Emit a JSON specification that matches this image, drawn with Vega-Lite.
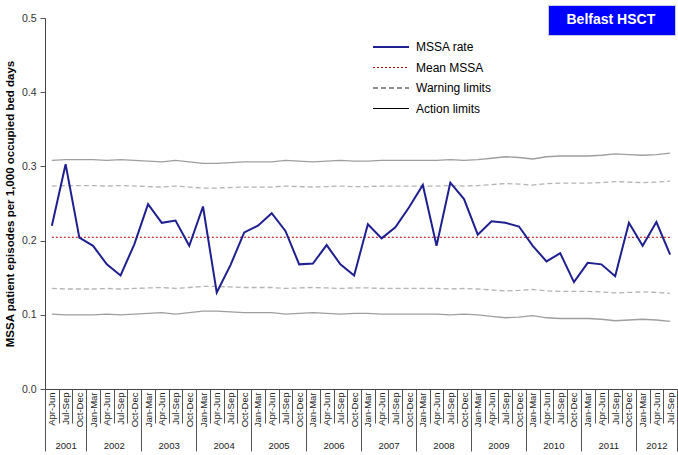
{
  "$schema": "https://vega.github.io/schema/vega-lite/v6.json",
  "width": 632,
  "height": 371,
  "autosize": {"type": "none"},
  "padding": {"left": 45, "top": 18, "right": 1, "bottom": 66},
  "background": "white",
  "config": {"view": {"stroke": null}, "font": "Liberation Sans"},
  "datasets": {
    "q": [
      {"key": "2001 Apr-Jun", "rate": 0.220, "mean": 0.2045, "ua": 0.308, "uw": 0.2735, "lw": 0.1355, "la": 0.101},
      {"key": "2001 Jul-Sep", "rate": 0.303, "mean": 0.2045, "ua": 0.309, "uw": 0.2742, "lw": 0.1348, "la": 0.100},
      {"key": "2001 Oct-Dec", "rate": 0.204, "mean": 0.2045, "ua": 0.309, "uw": 0.2742, "lw": 0.1348, "la": 0.100},
      {"key": "2002 Jan-Mar", "rate": 0.193, "mean": 0.2045, "ua": 0.309, "uw": 0.2742, "lw": 0.1348, "la": 0.100},
      {"key": "2002 Apr-Jun", "rate": 0.168, "mean": 0.2045, "ua": 0.308, "uw": 0.2735, "lw": 0.1355, "la": 0.101},
      {"key": "2002 Jul-Sep", "rate": 0.153, "mean": 0.2045, "ua": 0.309, "uw": 0.2742, "lw": 0.1348, "la": 0.100},
      {"key": "2002 Oct-Dec", "rate": 0.195, "mean": 0.2045, "ua": 0.308, "uw": 0.2735, "lw": 0.1355, "la": 0.101},
      {"key": "2003 Jan-Mar", "rate": 0.249, "mean": 0.2045, "ua": 0.307, "uw": 0.2728, "lw": 0.1362, "la": 0.102},
      {"key": "2003 Apr-Jun", "rate": 0.224, "mean": 0.2045, "ua": 0.306, "uw": 0.2722, "lw": 0.1368, "la": 0.103},
      {"key": "2003 Jul-Sep", "rate": 0.227, "mean": 0.2045, "ua": 0.308, "uw": 0.2735, "lw": 0.1355, "la": 0.101},
      {"key": "2003 Oct-Dec", "rate": 0.193, "mean": 0.2045, "ua": 0.306, "uw": 0.2722, "lw": 0.1368, "la": 0.103},
      {"key": "2004 Jan-Mar", "rate": 0.246, "mean": 0.2045, "ua": 0.304, "uw": 0.2708, "lw": 0.1382, "la": 0.105},
      {"key": "2004 Apr-Jun", "rate": 0.130, "mean": 0.2045, "ua": 0.304, "uw": 0.2708, "lw": 0.1382, "la": 0.105},
      {"key": "2004 Jul-Sep", "rate": 0.167, "mean": 0.2045, "ua": 0.305, "uw": 0.2715, "lw": 0.1375, "la": 0.104},
      {"key": "2004 Oct-Dec", "rate": 0.211, "mean": 0.2045, "ua": 0.306, "uw": 0.2722, "lw": 0.1368, "la": 0.103},
      {"key": "2005 Jan-Mar", "rate": 0.220, "mean": 0.2045, "ua": 0.306, "uw": 0.2722, "lw": 0.1368, "la": 0.103},
      {"key": "2005 Apr-Jun", "rate": 0.237, "mean": 0.2045, "ua": 0.306, "uw": 0.2722, "lw": 0.1368, "la": 0.103},
      {"key": "2005 Jul-Sep", "rate": 0.213, "mean": 0.2045, "ua": 0.308, "uw": 0.2735, "lw": 0.1355, "la": 0.101},
      {"key": "2005 Oct-Dec", "rate": 0.168, "mean": 0.2045, "ua": 0.307, "uw": 0.2728, "lw": 0.1362, "la": 0.102},
      {"key": "2006 Jan-Mar", "rate": 0.169, "mean": 0.2045, "ua": 0.306, "uw": 0.2722, "lw": 0.1368, "la": 0.103},
      {"key": "2006 Apr-Jun", "rate": 0.194, "mean": 0.2045, "ua": 0.307, "uw": 0.2728, "lw": 0.1362, "la": 0.102},
      {"key": "2006 Jul-Sep", "rate": 0.168, "mean": 0.2045, "ua": 0.308, "uw": 0.2735, "lw": 0.1355, "la": 0.101},
      {"key": "2006 Oct-Dec", "rate": 0.153, "mean": 0.2045, "ua": 0.307, "uw": 0.2728, "lw": 0.1362, "la": 0.102},
      {"key": "2007 Jan-Mar", "rate": 0.222, "mean": 0.2045, "ua": 0.307, "uw": 0.2728, "lw": 0.1362, "la": 0.102},
      {"key": "2007 Apr-Jun", "rate": 0.203, "mean": 0.2045, "ua": 0.308, "uw": 0.2735, "lw": 0.1355, "la": 0.101},
      {"key": "2007 Jul-Sep", "rate": 0.218, "mean": 0.2045, "ua": 0.308, "uw": 0.2735, "lw": 0.1355, "la": 0.101},
      {"key": "2007 Oct-Dec", "rate": 0.245, "mean": 0.2045, "ua": 0.308, "uw": 0.2735, "lw": 0.1355, "la": 0.101},
      {"key": "2008 Jan-Mar", "rate": 0.275, "mean": 0.2045, "ua": 0.308, "uw": 0.2735, "lw": 0.1355, "la": 0.101},
      {"key": "2008 Apr-Jun", "rate": 0.193, "mean": 0.2045, "ua": 0.308, "uw": 0.2735, "lw": 0.1355, "la": 0.101},
      {"key": "2008 Jul-Sep", "rate": 0.278, "mean": 0.2045, "ua": 0.309, "uw": 0.2742, "lw": 0.1348, "la": 0.100},
      {"key": "2008 Oct-Dec", "rate": 0.256, "mean": 0.2045, "ua": 0.308, "uw": 0.2735, "lw": 0.1355, "la": 0.101},
      {"key": "2009 Jan-Mar", "rate": 0.208, "mean": 0.2045, "ua": 0.309, "uw": 0.2742, "lw": 0.1348, "la": 0.100},
      {"key": "2009 Apr-Jun", "rate": 0.226, "mean": 0.2045, "ua": 0.311, "uw": 0.2755, "lw": 0.1335, "la": 0.098},
      {"key": "2009 Jul-Sep", "rate": 0.224, "mean": 0.2045, "ua": 0.313, "uw": 0.2768, "lw": 0.1322, "la": 0.096},
      {"key": "2009 Oct-Dec", "rate": 0.219, "mean": 0.2045, "ua": 0.312, "uw": 0.2762, "lw": 0.1328, "la": 0.097},
      {"key": "2010 Jan-Mar", "rate": 0.193, "mean": 0.2045, "ua": 0.310, "uw": 0.2748, "lw": 0.1342, "la": 0.099},
      {"key": "2010 Apr-Jun", "rate": 0.172, "mean": 0.2045, "ua": 0.313, "uw": 0.2768, "lw": 0.1322, "la": 0.096},
      {"key": "2010 Jul-Sep", "rate": 0.183, "mean": 0.2045, "ua": 0.314, "uw": 0.2775, "lw": 0.1315, "la": 0.095},
      {"key": "2010 Oct-Dec", "rate": 0.144, "mean": 0.2045, "ua": 0.314, "uw": 0.2775, "lw": 0.1315, "la": 0.095},
      {"key": "2011 Jan-Mar", "rate": 0.170, "mean": 0.2045, "ua": 0.314, "uw": 0.2775, "lw": 0.1315, "la": 0.095},
      {"key": "2011 Apr-Jun", "rate": 0.168, "mean": 0.2045, "ua": 0.315, "uw": 0.2782, "lw": 0.1308, "la": 0.094},
      {"key": "2011 Jul-Sep", "rate": 0.152, "mean": 0.2045, "ua": 0.317, "uw": 0.2795, "lw": 0.1295, "la": 0.092},
      {"key": "2011 Oct-Dec", "rate": 0.224, "mean": 0.2045, "ua": 0.316, "uw": 0.2788, "lw": 0.1302, "la": 0.093},
      {"key": "2012 Jan-Mar", "rate": 0.193, "mean": 0.2045, "ua": 0.315, "uw": 0.2782, "lw": 0.1308, "la": 0.094},
      {"key": "2012 Apr-Jun", "rate": 0.225, "mean": 0.2045, "ua": 0.316, "uw": 0.2788, "lw": 0.1302, "la": 0.093},
      {"key": "2012 Jul-Sep", "rate": 0.181, "mean": 0.2045, "ua": 0.318, "uw": 0.2802, "lw": 0.1288, "la": 0.091}
    ],
    "years": [
      {"year": "2001", "start": 0}, {"year": "2002", "start": 3}, {"year": "2003", "start": 7},
      {"year": "2004", "start": 11}, {"year": "2005", "start": 15}, {"year": "2006", "start": 19},
      {"year": "2007", "start": 23}, {"year": "2008", "start": 27}, {"year": "2009", "start": 31},
      {"year": "2010", "start": 35}, {"year": "2011", "start": 39}, {"year": "2012", "start": 43}
    ]
  },
  "layer": [
    {
      "data": {"name": "q"},
      "encoding": {
        "x": {
          "field": "key", "type": "nominal", "sort": null,
          "scale": {"type": "point", "padding": 0.5},
          "axis": {
            "title": null, "orient": "bottom",
            "labelExpr": "slice(datum.label, 5)",
            "labelAngle": -90, "labelFontSize": 9.5, "labelColor": "#222",
            "labelPadding": 3, "ticks": false, "labelOverlap": false,
            "domainColor": "#444", "grid": false
          }
        },
        "color": {
          "datum": "MSSA rate",
          "scale": {
            "domain": ["MSSA rate", "Mean MSSA", "Warning limits", "Action limits"],
            "range": ["#1f1f8f", "#b40000", "#1a1a1a", "#000000"]
          },
          "legend": {
            "orient": "none", "legendX": 340, "legendY": 23, "title": null,
            "symbolType": "M-1.8,0H1.8", "symbolSize": 400, "symbolOpacity": 1,
            "labelOffset": 19, "labelFontSize": 12, "labelColor": "#000",
            "rowPadding": 8.5, "padding": 0,
            "encode": {
              "symbols": {
                "update": {
                  "stroke": {"signal": "datum.value == 'MSSA rate' ? '#1f1f8f' : datum.value == 'Mean MSSA' ? '#b40000' : '#111111'"},
                  "strokeDash": {"signal": "datum.value == 'Mean MSSA' ? [2,2] : datum.value == 'Warning limits' ? [5,3] : null"},
                  "strokeWidth": {"signal": "datum.value == 'MSSA rate' ? 2 : 1"},
                  "fill": {"value": "transparent"},
                  "opacity": {"value": 1}
                }
              }
            }
          }
        }
      },
      "layer": [
        {
          "mark": {"type": "line", "strokeDash": [5, 3], "strokeWidth": 1.3, "opacity": 0.33},
          "encoding": {
            "y": {
              "field": "uw", "type": "quantitative",
              "title": "MSSA patient episodes per 1,000 occupied bed days",
              "scale": {"domain": [0, 0.5], "nice": false, "zero": true},
              "axis": {
                "values": [0, 0.1, 0.2, 0.3, 0.4, 0.5], "format": ".1f",
                "tickSize": 5, "tickColor": "#555", "domainColor": "#444",
                "labelFontSize": 10.5, "labelColor": "#333", "labelPadding": 4,
                "grid": false, "titleFontSize": 11.5, "titleFontWeight": "bold",
                "titleColor": "#000", "titlePadding": 6
              }
            },
            "color": {"datum": "Warning limits"}
          }
        },
        {
          "mark": {"type": "line", "strokeDash": [5, 3], "strokeWidth": 1.3, "opacity": 0.33},
          "encoding": {
            "y": {"field": "lw", "type": "quantitative", "title": "MSSA patient episodes per 1,000 occupied bed days"},
            "color": {"datum": "Warning limits"}
          }
        },
        {
          "mark": {"type": "line", "strokeWidth": 1.3, "opacity": 0.38},
          "encoding": {
            "y": {"field": "ua", "type": "quantitative", "title": "MSSA patient episodes per 1,000 occupied bed days"},
            "color": {"datum": "Action limits"}
          }
        },
        {
          "mark": {"type": "line", "strokeWidth": 1.3, "opacity": 0.38},
          "encoding": {
            "y": {"field": "la", "type": "quantitative", "title": "MSSA patient episodes per 1,000 occupied bed days"},
            "color": {"datum": "Action limits"}
          }
        },
        {
          "mark": {"type": "line", "strokeDash": [2, 2], "strokeWidth": 1},
          "encoding": {
            "y": {"field": "mean", "type": "quantitative", "title": "MSSA patient episodes per 1,000 occupied bed days"},
            "color": {"datum": "Mean MSSA"}
          }
        },
        {
          "mark": {"type": "line", "strokeWidth": 2},
          "encoding": {
            "y": {"field": "rate", "type": "quantitative", "title": "MSSA patient episodes per 1,000 occupied bed days"},
            "color": {"datum": "MSSA rate"}
          }
        }
      ]
    },
    {
      "data": {"name": "years"},
      "mark": {"type": "point", "size": 0, "opacity": 0, "filled": true},
      "encoding": {
        "x": {
          "field": "start", "type": "quantitative",
          "scale": {"domain": [0, 46], "nice": false, "zero": false},
          "axis": {
            "title": null, "orient": "bottom", "domain": false, "grid": false,
            "values": [0, 1, 1.5, 2, 3, 4, 5, 6, 7, 8, 9, 10, 11, 12, 13, 14, 15, 16, 17, 18, 19, 20, 21, 22, 23, 24, 25, 26, 27, 28, 29, 30, 31, 32, 33, 34, 35, 36, 37, 38, 39, 40, 41, 42, 43, 44, 44.5, 45, 46],
            "tickSize": {"condition": {"test": "datum.value == 0 || datum.value == 46 || (datum.value + 1) % 4 == 0", "value": 62}, "value": 34},
            "tickOpacity": {"condition": {"test": "datum.value == 1.5 || datum.value == 44.5", "value": 0}, "value": 1},
            "tickColor": "#555",
            "labelExpr": "datum.value == 1.5 ? '2001' : datum.value == 44.5 ? '2012' : (datum.value >= 5 && datum.value <= 41 && (datum.value - 1) % 4 == 0) ? '' + (2001 + (datum.value - 1) / 4) : ''",
            "labelAngle": 0, "labelFontSize": 9.5, "labelColor": "#222",
            "labelPadding": 17, "labelFlush": false, "labelOverlap": false, "labelBound": false
          }
        },
        "y": {"datum": 0, "type": "quantitative"},
        "fill": {
          "datum": "Belfast HSCT",
          "scale": {"range": ["#0000ff"]},
          "legend": {
            "orient": "none", "legendX": 503, "legendY": -13, "title": null,
            "symbolType": "M-1.1667,-0.9H17.333V0.9H-1.1667Z", "symbolSize": 144,
            "symbolOpacity": 0, "labelOffset": -3.5,
            "labelFontSize": 14, "labelFontWeight": "bold", "labelColor": "#ffffff",
            "fillColor": "#0000ff", "strokeColor": "#c8c8e8", "padding": 8
          }
        }
      }
    }
  ],
  "resolve": {"scale": {"x": "independent"}, "axis": {"x": "independent"}}
}
